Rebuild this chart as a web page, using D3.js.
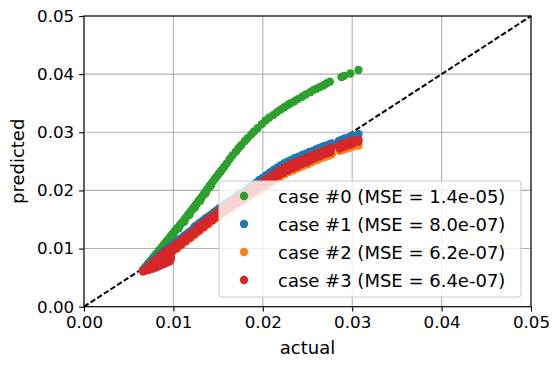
<!DOCTYPE html>
<html>
<head>
<meta charset="utf-8">
<script src="https://cdn.jsdelivr.net/npm/d3@7"></script>
<style>
  body { margin: 0; background: #fff; }
  svg { display: block; font-family: "DejaVu Sans", sans-serif; }
  .axis text { font-size: 16.7px; fill: #000; font-family: "DejaVu Sans", sans-serif; }
  .axis line { stroke: #000; stroke-width: 1.1; }
  .axis path { display: none; }
  .axis-label { font-size: 18px; fill: #000; }
  .legend-text { font-size: 18px; fill: #000; }
</style>
</head>
<body>
<div id="chart"></div>
<script>
// tick values, shared by both axes
var ticks = [0, 0.01, 0.02, 0.03, 0.04, 0.05];

var caseLabels = ['case #0', 'case #1', 'case #2', 'case #3'];
var caseMse = ['1.4e-05', '8.0e-07', '6.2e-07', '6.4e-07'];
var caseColors = ['#2ca02c', '#1f77b4', '#ff7f0e', '#d62728'];

// [actual, predicted]
var case0 = [
  [0.0066,0.0063],[0.0068,0.0066],[0.0069,0.0069],[0.0071,0.0072],[0.0072,0.0075],[0.0074,0.0078],
  [0.0075,0.0080],[0.0077,0.0083],[0.0078,0.0086],[0.0080,0.0089],[0.0081,0.0091],[0.0083,0.0094],
  [0.0084,0.0097],[0.0086,0.0100],[0.0087,0.0102],[0.0089,0.0106],[0.0090,0.0108],[0.0092,0.0111],
  [0.0093,0.0114],[0.0095,0.0117],[0.0096,0.0119],[0.0098,0.0123],[0.0099,0.0125],[0.0101,0.0128],
  [0.0102,0.0131],[0.0104,0.0134],[0.0105,0.0136],[0.0107,0.0139],[0.0108,0.0142],[0.0110,0.0145],
  [0.0111,0.0147],[0.0113,0.0151],[0.0114,0.0153],[0.0116,0.0157],[0.0117,0.0159],[0.0119,0.0163],
  [0.0120,0.0165],[0.0122,0.0169],[0.0123,0.0171],[0.0125,0.0175],[0.0126,0.0177],[0.0128,0.0181],
  [0.0129,0.0183],[0.0131,0.0187],[0.0132,0.0189],[0.0134,0.0193],[0.0135,0.0196],[0.0137,0.0200],
  [0.0138,0.0202],[0.0140,0.0206],[0.0141,0.0209],[0.0143,0.0213],[0.0145,0.0217],[0.0147,0.0221],
  [0.0149,0.0225],[0.0151,0.0229],[0.0153,0.0233],[0.0155,0.0237],[0.0157,0.0241],[0.0160,0.0247],
  [0.0163,0.0254],[0.0166,0.0260],[0.0170,0.0267],[0.0173,0.0273],[0.0176,0.0278],[0.0180,0.0285],
  [0.0183,0.0290],[0.0187,0.0296],[0.0190,0.0301],[0.0194,0.0307],[0.0199,0.0314],[0.0203,0.0320],
  [0.0207,0.0325],[0.0212,0.0330],[0.0216,0.0335],[0.0220,0.0339],[0.0224,0.0343],[0.0228,0.0347],
  [0.0231,0.0350],[0.0235,0.0353],[0.0239,0.0357],[0.0244,0.0361],[0.0248,0.0365],[0.0253,0.0369],
  [0.0257,0.0373],[0.0260,0.0375],[0.0264,0.0378],[0.0268,0.0381],[0.0271,0.0384],[0.0275,0.0387],
  [0.0288,0.0395],[0.0291,0.0397],[0.0298,0.0401],[0.0307,0.0407],
  [0.0070,0.0068],[0.0076,0.0079],[0.0082,0.0090],[0.0088,0.0101],[0.0094,0.0113],[0.0100,0.0124],
  [0.0106,0.0135],[0.0112,0.0146],[0.0118,0.0158],[0.0124,0.0170],[0.0130,0.0182],[0.0136,0.0195],
  [0.0142,0.0208]
];

var case1 = [
  [0.0066,0.0063],[0.0068,0.0066],[0.0070,0.0069],[0.0072,0.0072],[0.0074,0.0075],[0.0076,0.0078],
  [0.0078,0.0081],[0.0080,0.0084],[0.0082,0.0087],[0.0085,0.0090],[0.0088,0.0094],[0.0091,0.0097],
  [0.0094,0.0101],[0.0097,0.0104],[0.0100,0.0108],[0.0103,0.0111],[0.0106,0.0115],[0.0109,0.0118],
  [0.0112,0.0122],[0.0115,0.0125],[0.0118,0.0129],[0.0121,0.0132],[0.0124,0.0138],[0.0127,0.0141],
  [0.0130,0.0145],[0.0133,0.0148],[0.0136,0.0152],[0.0139,0.0155],[0.0142,0.0158],[0.0145,0.0162],
  [0.0148,0.0165],[0.0151,0.0169],[0.0154,0.0172],[0.0157,0.0176],[0.0160,0.0179],[0.0164,0.0183],
  [0.0168,0.0187],[0.0172,0.0192],[0.0176,0.0196],[0.0180,0.0200],[0.0184,0.0205],[0.0188,0.0209],
  [0.0192,0.0213],[0.0196,0.0218],[0.0200,0.0222],[0.0204,0.0226],[0.0208,0.0231],[0.0212,0.0235],
  [0.0216,0.0239],[0.0220,0.0243],[0.0224,0.0247],[0.0228,0.0250],[0.0232,0.0253],[0.0236,0.0256],
  [0.0240,0.0258],[0.0244,0.0261],[0.0248,0.0263],[0.0252,0.0266],[0.0256,0.0268],[0.0259,0.0270],
  [0.0262,0.0272],[0.0265,0.0274],[0.0268,0.0276],[0.0271,0.0277],[0.0274,0.0279],[0.0277,0.0281],
  [0.0285,0.0285],[0.0288,0.0287],[0.0291,0.0289],[0.0294,0.0290],[0.0297,0.0292],[0.0300,0.0294],
  [0.0307,0.0297]
];

var case2 = [
  [0.0066,0.0061],[0.0072,0.0064],[0.0080,0.0069],[0.0088,0.0075],[0.0095,0.0080],
  [0.0100,0.0096],[0.0105,0.0101],[0.0110,0.0107],[0.0115,0.0113],[0.0120,0.0119],[0.0125,0.0125],
  [0.0130,0.0131],[0.0135,0.0137],[0.0140,0.0143],[0.0145,0.0149],[0.0150,0.0154],[0.0155,0.0160],
  [0.0160,0.0165],[0.0165,0.0170],[0.0170,0.0175],[0.0175,0.0180],[0.0180,0.0185],[0.0185,0.0190],
  [0.0190,0.0195],[0.0195,0.0199],[0.0200,0.0204],[0.0205,0.0209],[0.0210,0.0214],[0.0215,0.0219],
  [0.0220,0.0224],[0.0225,0.0228],[0.0230,0.0232],[0.0235,0.0235],[0.0240,0.0239],[0.0245,0.0242],
  [0.0250,0.0245],[0.0254,0.0248],[0.0258,0.0251],[0.0262,0.0253],[0.0266,0.0256],[0.0270,0.0258],
  [0.0274,0.0260],[0.0277,0.0262],[0.0286,0.0268],[0.0290,0.0270],[0.0294,0.0272],[0.0298,0.0274],
  [0.0301,0.0276],[0.0307,0.0277]
];

var case3 = [
  // upper track
  [0.0068,0.0064],[0.0072,0.0069],[0.0076,0.0075],[0.0080,0.0080],[0.0085,0.0087],[0.0091,0.0094],
  [0.0097,0.0101],[0.0103,0.0108],[0.0109,0.0115],[0.0115,0.0122],[0.0121,0.0129],[0.0127,0.0137],
  [0.0133,0.0144],[0.0139,0.0151],[0.0145,0.0158],[0.0151,0.0165],[0.0157,0.0172],[0.0164,0.0179],
  [0.0168,0.0183],[0.0172,0.0187],[0.0176,0.0191],[0.0180,0.0195],[0.0184,0.0199],[0.0188,0.0203],
  [0.0192,0.0207],[0.0196,0.0211],[0.0200,0.0215],[0.0204,0.0219],[0.0208,0.0223],[0.0212,0.0227],
  [0.0216,0.0231],[0.0220,0.0235],[0.0224,0.0239],[0.0228,0.0242],[0.0232,0.0245],[0.0236,0.0248],
  [0.0240,0.0250],[0.0244,0.0253],[0.0248,0.0255],[0.0252,0.0258],[0.0256,0.0260],[0.0259,0.0262],
  [0.0262,0.0264],[0.0265,0.0266],[0.0268,0.0268],[0.0271,0.0269],[0.0274,0.0271],[0.0277,0.0273],
  [0.0285,0.0277],[0.0288,0.0279],[0.0291,0.0281],[0.0294,0.0282],[0.0297,0.0284],[0.0300,0.0286],
  [0.0307,0.0287],
  // lower track
  [0.0098,0.0094],[0.0103,0.0100],[0.0108,0.0106],[0.0113,0.0112],[0.0118,0.0118],[0.0123,0.0124],
  [0.0128,0.0130],[0.0133,0.0136],[0.0138,0.0142],[0.0143,0.0148],[0.0148,0.0154],[0.0153,0.0160],
  [0.0158,0.0166],[0.0163,0.0171],[0.0168,0.0176],[0.0173,0.0181],[0.0178,0.0186],[0.0183,0.0191],
  [0.0188,0.0196],[0.0193,0.0201],[0.0198,0.0206],[0.0203,0.0211],[0.0208,0.0216],[0.0213,0.0221],
  [0.0218,0.0226],[0.0223,0.0230],[0.0228,0.0234],[0.0233,0.0238],[0.0238,0.0241],[0.0243,0.0245],
  [0.0248,0.0248],[0.0252,0.0251],[0.0256,0.0254],[0.0260,0.0257],[0.0264,0.0259],[0.0268,0.0262],
  [0.0272,0.0264],[0.0276,0.0266],[0.0286,0.0272],[0.0290,0.0275],[0.0294,0.0277],[0.0298,0.0279],
  [0.0301,0.0281],[0.0307,0.0284],
  // low cluster
  [0.0066,0.0061],[0.0069,0.0062],[0.0072,0.0063],[0.0075,0.0065],[0.0078,0.0066],[0.0081,0.0068],
  [0.0084,0.0070],[0.0087,0.0072],[0.0090,0.0074],[0.0093,0.0076],[0.0096,0.0078],[0.0097,0.0081],
  [0.0097,0.0085],[0.0097,0.0089],[0.0072,0.0067],[0.0076,0.0070],[0.0080,0.0073],[0.0084,0.0076],
  [0.0088,0.0079],[0.0092,0.0082],[0.0095,0.0085],[0.0078,0.0076],[0.0083,0.0080],[0.0088,0.0085],
  [0.0093,0.0090],[0.0086,0.0089],[0.0092,0.0096]
];

var caseData = [case0, case1, case2, case3];

var margin = { top: 16, right: 29, bottom: 61.3, left: 84 };
var width = 560 - margin.left - margin.right,
    height = 368 - margin.top - margin.bottom;

var svg = d3.select('#chart')
            .append('svg')
            .attr('width', 560)
            .attr('height', 368)
            .append('g')
            .attr('transform', 'translate(' + margin.left + ',' + margin.top + ')');

var x = d3.scaleLinear().domain([0, 0.05]).range([0, width]);
var y = d3.scaleLinear().domain([0, 0.05]).range([height, 0]);

// Grid
svg.append('g').selectAll('line.vgrid')
   .data(ticks)
   .enter().append('line')
   .attr('x1', function(d) { return x(d); })
   .attr('x2', function(d) { return x(d); })
   .attr('y1', 0)
   .attr('y2', height)
   .attr('stroke', '#b0b0b0')
   .attr('stroke-width', 1.1);

svg.append('g').selectAll('line.hgrid')
   .data(ticks)
   .enter().append('line')
   .attr('x1', 0)
   .attr('x2', width)
   .attr('y1', function(d) { return y(d); })
   .attr('y2', function(d) { return y(d); })
   .attr('stroke', '#b0b0b0')
   .attr('stroke-width', 1.1);

// Identity line
svg.append('line')
   .attr('x1', x(0)).attr('y1', y(0))
   .attr('x2', x(0.05)).attr('y2', y(0.05))
   .attr('stroke', '#000')
   .attr('stroke-width', 2)
   .attr('stroke-dasharray', '5.5,2.4');

// Scatter
caseData.forEach(function(points, i) {
  svg.append('g')
     .selectAll('circle')
     .data(points)
     .enter().append('circle')
     .attr('cx', function(d) { return x(d[0]); })
     .attr('cy', function(d) { return y(d[1]); })
     .attr('r', 4.2)
     .attr('fill', caseColors[i]);
});

// Axes
var fmt = d3.format('.2f');

svg.append('g')
   .attr('class', 'axis')
   .attr('transform', 'translate(0,' + height + ')')
   .call(d3.axisBottom(x).tickValues(ticks).tickFormat(fmt).tickSize(4.9).tickPadding(4.9).tickSizeOuter(0));

svg.append('g')
   .attr('class', 'axis')
   .call(d3.axisLeft(y).tickValues(ticks).tickFormat(fmt).tickSize(4.9).tickPadding(4.9).tickSizeOuter(0));

// Frame
svg.append('rect')
   .attr('width', width)
   .attr('height', height)
   .attr('fill', 'none')
   .attr('stroke', '#000')
   .attr('stroke-width', 1.1);

// Axis labels
svg.append('text')
   .attr('class', 'axis-label')
   .attr('x', width / 2)
   .attr('y', 354 - margin.top)
   .attr('text-anchor', 'middle')
   .text('actual');

svg.append('text')
   .attr('class', 'axis-label')
   .attr('transform', 'rotate(-90)')
   .attr('x', -height / 2)
   .attr('y', 24 - margin.left)
   .attr('text-anchor', 'middle')
   .text('predicted');

// Legend
var legend = svg.append('g')
                .attr('transform', 'translate(' + (219 - margin.left) + ',' + (181 - margin.top) + ')');

legend.append('rect')
      .attr('width', 302)
      .attr('height', 116)
      .attr('rx', 3)
      .attr('fill', '#fff')
      .attr('fill-opacity', 0.8)
      .attr('stroke', '#cccccc')
      .attr('stroke-width', 1.1);

var rows = legend.selectAll('g.row')
                 .data(caseLabels)
                 .enter().append('g')
                 .attr('transform', function(d, i) { return 'translate(0,' + (15 + i * 28) + ')'; });

rows.append('circle')
    .attr('cx', 25)
    .attr('cy', 0)
    .attr('r', 4.2)
    .attr('fill', function(d, i) { return caseColors[i]; });

rows.append('text')
    .attr('class', 'legend-text')
    .attr('x', 59)
    .attr('y', 6.5)
    .text(function(d, i) { return d + ' (MSE = ' + caseMse[i] + ')'; });
</script>
</body>
</html>
